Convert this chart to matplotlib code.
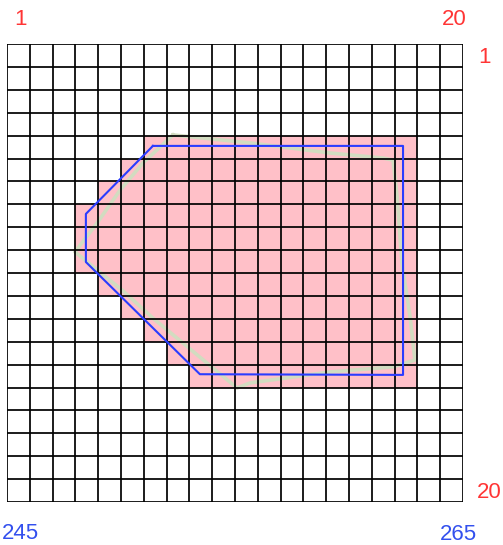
import matplotlib
matplotlib.use("Agg")
import matplotlib.pyplot as plt
import numpy as np

W, H = 503, 545

# grid size
n_cols = 20
n_rows = 20

# shaded cells: per row, first shaded column and end column (exclusive)
pink_rows = [4, 5, 6, 7, 8, 9, 10, 11, 12, 13, 14]
pink_start = [6, 5, 4, 3, 3, 3, 4, 5, 6, 7, 8]
pink_end = [18, 18, 18, 18, 18, 18, 18, 18, 18, 18, 18]

# blue polygon (grid units)
blue_x = [6.4, 17.37, 17.37, 8.46, 3.46, 3.46, 6.4]
blue_y = [4.45, 4.45, 14.45, 14.42, 9.52, 7.42, 4.45]

# beige outline (grid units)
beige_x = [7.28, 10.66, 14.17, 16.49, 16.93, 17.11, 17.32, 17.68, 17.89,
           16.93, 14.17, 10.66, 10.09, 8.77, 6.40, 5.04, 2.98, 3.95, 4.96, 5.96, 7.28]
beige_y = [3.97, 4.32, 4.76, 4.98, 5.07, 6.68, 9.56, 11.92, 13.80,
           14.10, 14.32, 14.80, 15.02, 13.93, 11.97, 10.74, 9.08, 7.82, 6.38, 5.20, 3.97]

# corner labels
col_labels = ["1", "20"]
row_labels = ["1", "20"]
x_labels = ["245", "265"]

fig = plt.figure(figsize=(W / 100, H / 100), dpi=100)
fig.patch.set_facecolor("white")

left_px, right_px, top_px, bottom_px = 7, 463, 44, 502
ax = fig.add_axes([left_px / W, 1 - bottom_px / H,
                   (right_px - left_px) / W, (bottom_px - top_px) / H])
ax.set_xlim(0, n_cols)
ax.set_ylim(n_rows, 0)
ax.axis("off")

rows = np.array(pink_rows)
starts = np.array(pink_start)
ends = np.array(pink_end)
ax.barh(rows + 0.5, ends - starts, left=starts, height=1.0,
        color="#ffc0c8", edgecolor="none", zorder=1)

ax.plot(beige_x, beige_y, color="#d2dcc0", lw=2.6, zorder=2,
        solid_joinstyle="round")

for i in range(n_cols + 1):
    ax.plot([i, i], [0, n_rows], color="black", lw=1.25, zorder=3)
for j in range(n_rows + 1):
    ax.plot([0, n_cols], [j, j], color="black", lw=1.25, zorder=3)

ax.plot(blue_x, blue_y, color="#2a3cff", lw=1.5, zorder=4)

red = "#ff3535"
blue = "#3350ee"
fs = 16
fam = ["Liberation Sans", "DejaVu Sans"]


def put(txt, xpx, ypx_base, color):
    fig.text(xpx / W, 1 - ypx_base / H, txt, color=color, fontsize=fs,
             ha="center", va="baseline", family=fam)


put(col_labels[0], 21, 25, red)
put(col_labels[1], 454, 25, red)
put(row_labels[0], 485, 63, red)
put(row_labels[1], 489, 498, red)
put(x_labels[0], 20, 539, blue)
put(x_labels[1], 458, 540, blue)

fig.savefig("out.png", dpi=100, facecolor="white")
